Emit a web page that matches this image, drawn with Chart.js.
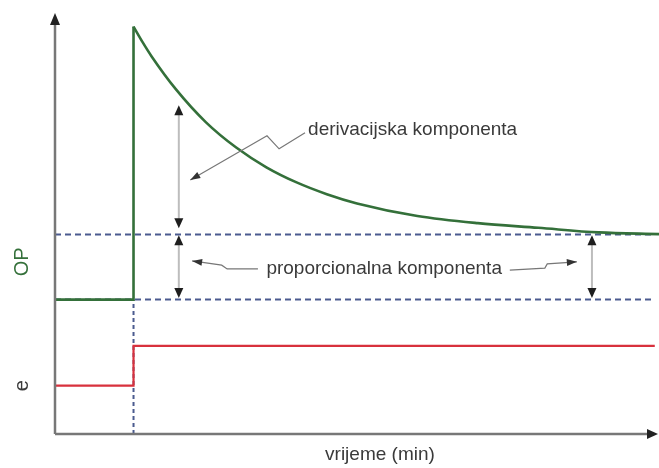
<!DOCTYPE html>
<html>
<head>
<meta charset="utf-8">
<script src="https://cdn.jsdelivr.net/npm/chart.js@4.4.1/dist/chart.umd.min.js"></script>
<style>
  html, body { margin: 0; padding: 0; background: #fff; }
  #wrap { width: 659px; height: 468px; }
</style>
</head>
<body>
<div id="wrap"><canvas id="myChart" width="659" height="468"></canvas></div>
<script>
// time axis (min) and levels
var stepTime = 1.3;
var endTime = 10;
var lineEnd = 9.93;
var opBase = 3.2;
var opPeak = 9.7;
var opSteady = 4.75;
var eLow = 1.15;
var eHigh = 2.1;

// OP after the step (derivative part dying away)
var decayTime = [1.3, 1.45, 1.6, 2.0, 2.5, 3.0, 3.5, 4.0, 4.5, 5.0, 6.0, 7.0, 8.0, 9.0, 10.0];
var decayOP   = [9.70, 9.33, 8.99, 8.21, 7.42, 6.82, 6.35, 5.99, 5.71, 5.49, 5.19, 5.02, 4.91, 4.80, 4.76];

var GREEN = '#34703a';
var RED = '#d8313d';
var BLUE = '#4b5b8f';
var TEXT = '#3a3a3a';
var FONT = '"Liberation Sans", Arial, sans-serif';

function pts(xs, ys) {
  return xs.map(function (x, i) { return {x: x, y: ys[i]}; });
}

// annotation layout (data coords)
var notes = {
  arrows: [
    {x: 2.05, from: 7.83, to: 4.90},
    {x: 2.05, from: 4.73, to: 3.24},
    {x: 8.89, from: 4.73, to: 3.24}
  ],
  leaders: [
    [[4.14, 7.17], [3.71, 6.79], [3.51, 7.10], [2.24, 6.05]],
    [[3.36, 3.93], [2.85, 3.93], [2.76, 4.02], [2.27, 4.12]],
    [[7.53, 3.90], [8.11, 3.95], [8.15, 4.05], [8.64, 4.10]]
  ],
  labels: [
    {text: 'derivacijska komponenta', x: 4.19, y: 7.24},
    {text: 'proporcionalna komponenta', x: 3.50, y: 3.93}
  ]
};

function head(ctx, x, y, dx, dy, len, w) {
  var l = Math.sqrt(dx * dx + dy * dy);
  var ux = dx / l, uy = dy / l;
  ctx.beginPath();
  ctx.moveTo(x, y);
  ctx.lineTo(x - ux * len - uy * w / 2, y - uy * len + ux * w / 2);
  ctx.lineTo(x - ux * len + uy * w / 2, y - uy * len - ux * w / 2);
  ctx.closePath();
  ctx.fill();
}

var decor = {
  id: 'decor',
  afterDatasetsDraw: function (chart) {
    var ctx = chart.ctx;
    var xs = chart.scales.x, ys = chart.scales.y;
    var a = chart.chartArea;
    ctx.save();

    // axes
    ctx.strokeStyle = '#777';
    ctx.lineWidth = 2.5;
    ctx.beginPath();
    ctx.moveTo(a.left, a.bottom);
    ctx.lineTo(a.left, a.top + 8);
    ctx.moveTo(a.left, a.bottom);
    ctx.lineTo(a.right - 6, a.bottom);
    ctx.stroke();
    ctx.fillStyle = '#222';
    head(ctx, a.left, a.top - 1, 0, -1, 12, 10);
    head(ctx, a.right - 1, a.bottom, 1, 0, 11, 10);

    // double arrows
    notes.arrows.forEach(function (ar) {
      var px = xs.getPixelForValue(ar.x);
      var y1 = ys.getPixelForValue(ar.from), y2 = ys.getPixelForValue(ar.to);
      ctx.strokeStyle = '#bdbdbd';
      ctx.lineWidth = 2;
      ctx.beginPath();
      ctx.moveTo(px, y1 + 6);
      ctx.lineTo(px, y2 - 6);
      ctx.stroke();
      ctx.fillStyle = '#1e1e1e';
      head(ctx, px, y1, 0, -1, 10, 9);
      head(ctx, px, y2, 0, 1, 10, 9);
    });

    // leader lines
    notes.leaders.forEach(function (ld) {
      ctx.strokeStyle = '#777';
      ctx.lineWidth = 1.2;
      ctx.beginPath();
      ld.forEach(function (p, i) {
        var px = xs.getPixelForValue(p[0]), py = ys.getPixelForValue(p[1]);
        if (i === 0) ctx.moveTo(px, py); else ctx.lineTo(px, py);
      });
      ctx.stroke();
      var n = ld.length;
      var ex = xs.getPixelForValue(ld[n - 1][0]), ey = ys.getPixelForValue(ld[n - 1][1]);
      var bx = xs.getPixelForValue(ld[n - 2][0]), by = ys.getPixelForValue(ld[n - 2][1]);
      ctx.fillStyle = '#333';
      head(ctx, ex, ey, ex - bx, ey - by, 10, 7);
    });

    // labels
    ctx.font = '19px ' + FONT;
    ctx.fillStyle = TEXT;
    ctx.textBaseline = 'middle';
    ctx.textAlign = 'left';
    notes.labels.forEach(function (lb) {
      ctx.fillText(lb.text, xs.getPixelForValue(lb.x), ys.getPixelForValue(lb.y));
    });

    ctx.textAlign = 'center';
    ctx.fillText('vrijeme (min)', xs.getPixelForValue(5.38), a.bottom + 21);

    ctx.font = '20px ' + FONT;
    ctx.save();
    ctx.translate(22, ys.getPixelForValue(4.1));
    ctx.rotate(-Math.PI / 2);
    ctx.fillStyle = GREEN;
    ctx.fillText('OP', 0, 0);
    ctx.restore();

    ctx.save();
    ctx.translate(22, ys.getPixelForValue(eLow));
    ctx.rotate(-Math.PI / 2);
    ctx.fillStyle = TEXT;
    ctx.fillText('e', 0, 0);
    ctx.restore();

    ctx.restore();
  }
};

var ctx = document.getElementById('myChart').getContext('2d');
var myChart = new Chart(ctx, {
  type: 'line',
  data: {
    datasets: [
      {
        label: 'OP decay',
        data: pts(decayTime, decayOP),
        borderColor: GREEN,
        borderWidth: 2.6,
        cubicInterpolationMode: 'monotone',
        pointRadius: 0,
        order: 0
      },
      {
        label: 'OP step',
        data: pts([0, stepTime, stepTime], [opBase, opBase, opPeak]),
        borderColor: GREEN,
        borderWidth: 2.6,
        tension: 0,
        pointRadius: 0,
        order: 0
      },
      {
        label: 'e',
        data: pts([0, stepTime, stepTime, lineEnd], [eLow, eLow, eHigh, eHigh]),
        borderColor: RED,
        borderWidth: 2.2,
        tension: 0,
        pointRadius: 0,
        order: 1
      },
      {
        label: 'steady',
        data: pts([0, lineEnd], [opSteady, opSteady]),
        borderColor: BLUE,
        borderWidth: 2,
        borderDash: [6, 4],
        pointRadius: 0,
        order: 2
      },
      {
        label: 'base',
        data: pts([0, lineEnd], [opBase, opBase]),
        borderColor: BLUE,
        borderWidth: 2,
        borderDash: [6, 4],
        pointRadius: 0,
        order: 2
      },
      {
        label: 'step time',
        data: pts([stepTime, stepTime], [0, opBase]),
        borderColor: BLUE,
        borderWidth: 2,
        borderDash: [4, 3],
        pointRadius: 0,
        order: 2
      }
    ]
  },
  options: {
    responsive: false,
    animation: false,
    events: [],
    layout: { padding: { left: 55, top: 14, right: 0, bottom: 34 } },
    plugins: { legend: { display: false }, tooltip: { enabled: false } },
    scales: {
      x: { type: 'linear', min: 0, max: endTime, display: false },
      y: { type: 'linear', min: 0, max: 10, display: false }
    }
  },
  plugins: [decor]
});
</script>
</body>
</html>
